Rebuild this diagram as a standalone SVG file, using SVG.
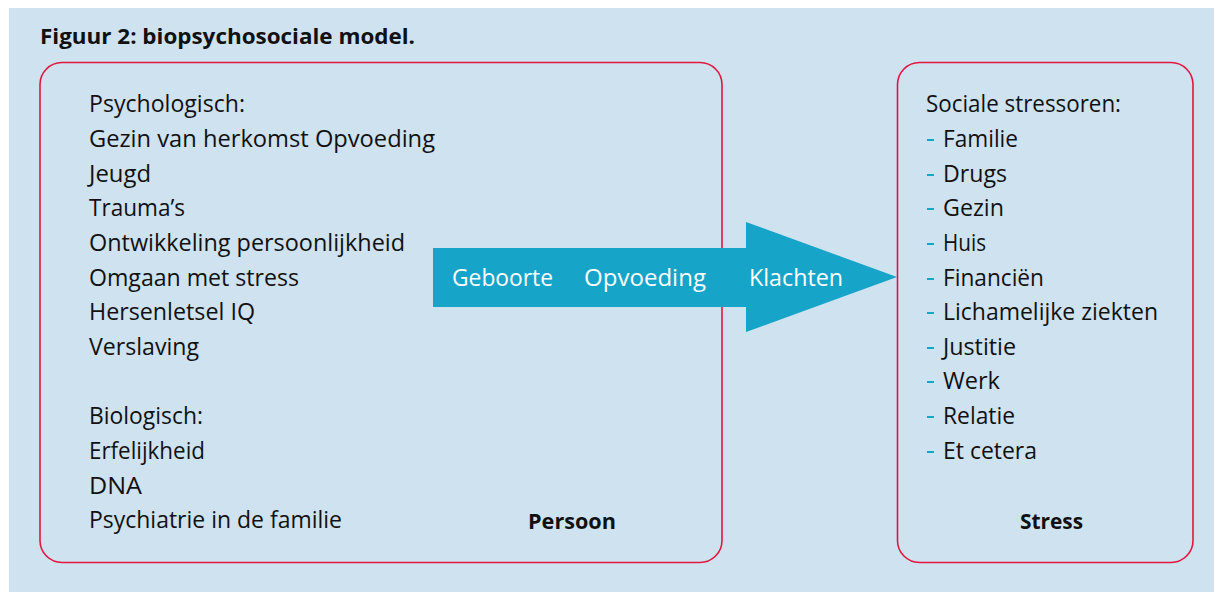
<svg xmlns="http://www.w3.org/2000/svg" width="1214" height="592" viewBox="0 0 1214 592">
<style>
.bg{fill:#cfe2f0}
.box{fill:none;stroke:#e2173f;stroke-width:1.6}
.t{font-family:"Open Sans","Liberation Sans",sans-serif;font-size:23.5px;fill:#111}
.b{font-family:"Open Sans","Liberation Sans",sans-serif;font-size:22px;font-weight:bold;fill:#111}
.w{font-family:"Open Sans","Liberation Sans",sans-serif;font-size:23.5px;fill:#fff}
.d{fill:#17a4c9}
.arrow{fill:#17a4c9}
</style>
<rect x="0" y="0" width="1214" height="592" fill="#ffffff"/>
<rect class="bg" x="9" y="8" width="1205" height="584"/>
<text class="b" x="40" y="44" textLength="375" lengthAdjust="spacingAndGlyphs">Figuur 2: biopsychosociale model.</text>

<g id="persoon">
<rect class="box" x="40" y="62.5" width="682" height="500" rx="22"/>
<text class="t" x="89" y="112" textLength="156" lengthAdjust="spacingAndGlyphs">Psychologisch:</text>
<text class="t" x="89" y="147" textLength="346" lengthAdjust="spacingAndGlyphs">Gezin van herkomst Opvoeding</text>
<text class="t" x="89" y="182" textLength="62" lengthAdjust="spacingAndGlyphs">Jeugd</text>
<text class="t" x="89" y="216" textLength="96" lengthAdjust="spacingAndGlyphs">Trauma’s</text>
<text class="t" x="89" y="251" textLength="316" lengthAdjust="spacingAndGlyphs">Ontwikkeling persoonlijkheid</text>
<text class="t" x="89" y="286" textLength="210" lengthAdjust="spacingAndGlyphs">Omgaan met stress</text>
<text class="t" x="89" y="320" textLength="166" lengthAdjust="spacingAndGlyphs">Hersenletsel IQ</text>
<text class="t" x="89" y="355" textLength="110" lengthAdjust="spacingAndGlyphs">Verslaving</text>
<text class="t" x="89" y="424" textLength="114" lengthAdjust="spacingAndGlyphs">Biologisch:</text>
<text class="t" x="89" y="459" textLength="116" lengthAdjust="spacingAndGlyphs">Erfelijkheid</text>
<text class="t" x="89" y="494" textLength="53" lengthAdjust="spacingAndGlyphs">DNA</text>
<text class="t" x="89" y="528" textLength="253" lengthAdjust="spacingAndGlyphs">Psychiatrie in de familie</text>
<text class="b" x="528" y="529" textLength="88" lengthAdjust="spacingAndGlyphs">Persoon</text>
</g>

<g id="stress">
<rect class="box" x="897.5" y="62.5" width="295.5" height="500" rx="22"/>
<text class="t" x="926" y="112" textLength="195" lengthAdjust="spacingAndGlyphs">Sociale stressoren:</text>
<g class="d">
<rect x="927" y="139" width="7" height="2"/>
<rect x="927" y="174" width="7" height="2"/>
<rect x="927" y="208" width="7" height="2"/>
<rect x="927" y="243" width="7" height="2"/>
<rect x="927" y="278" width="7" height="2"/>
<rect x="927" y="312" width="7" height="2"/>
<rect x="927" y="347" width="7" height="2"/>
<rect x="927" y="381" width="7" height="2"/>
<rect x="927" y="416" width="7" height="2"/>
<rect x="927" y="451" width="7" height="2"/>
</g>
<text class="t" x="943" y="147" textLength="75" lengthAdjust="spacingAndGlyphs">Familie</text>
<text class="t" x="943" y="182" textLength="64" lengthAdjust="spacingAndGlyphs">Drugs</text>
<text class="t" x="943" y="216" textLength="61" lengthAdjust="spacingAndGlyphs">Gezin</text>
<text class="t" x="943" y="251" textLength="43" lengthAdjust="spacingAndGlyphs">Huis</text>
<text class="t" x="943" y="286" textLength="101" lengthAdjust="spacingAndGlyphs">Financiën</text>
<text class="t" x="943" y="320" textLength="215" lengthAdjust="spacingAndGlyphs">Lichamelijke ziekten</text>
<text class="t" x="943" y="355" textLength="73" lengthAdjust="spacingAndGlyphs">Justitie</text>
<text class="t" x="943" y="389" textLength="57" lengthAdjust="spacingAndGlyphs">Werk</text>
<text class="t" x="943" y="424" textLength="72" lengthAdjust="spacingAndGlyphs">Relatie</text>
<text class="t" x="943" y="459" textLength="94" lengthAdjust="spacingAndGlyphs">Et cetera</text>
<text class="b" x="1020" y="529" textLength="63" lengthAdjust="spacingAndGlyphs">Stress</text>
</g>

<g id="connectors">
<polygon class="arrow" points="433,248 746,248 746,222 897,277 746,332 746,307 433,307"/>
<text class="w" x="452" y="286" textLength="101" lengthAdjust="spacingAndGlyphs">Geboorte</text>
<text class="w" x="584" y="286" textLength="122" lengthAdjust="spacingAndGlyphs">Opvoeding</text>
<text class="w" x="749" y="286" textLength="94" lengthAdjust="spacingAndGlyphs">Klachten</text>
</g>
</svg>
